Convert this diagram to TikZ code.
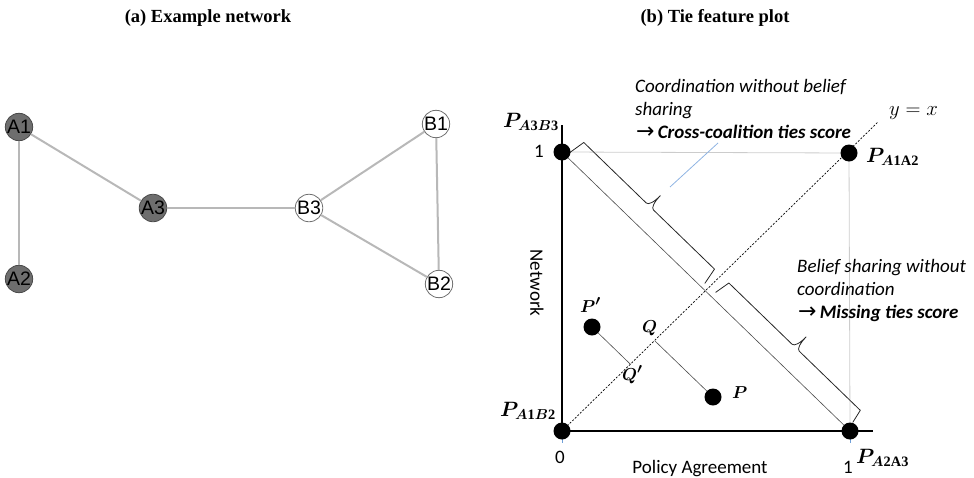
\documentclass[tikz,border=0pt]{standalone}
\usepackage{fontspec}
\usepackage{bm}
\setmainfont{Liberation Serif}
\newfontfamily\arialf{Liberation Sans}
\newfontfamily\calf{Carlito}
\newfontfamily\djvf{DejaVu Sans}
\usetikzlibrary{calc}
\definecolor{nodegray}{HTML}{6E6E6E}
\definecolor{darkrim}{HTML}{4A4A4A}
\definecolor{rimgray}{HTML}{707070}
\definecolor{edgegray}{HTML}{B8B8B8}
\definecolor{gridgray}{HTML}{CCCCCC}
\definecolor{pointerblue}{HTML}{8FB4E3}
\definecolor{tickblue}{HTML}{6F9FD8}
\newcommand{\rarr}{{\djvf\fontsize{22}{22}\selectfont\upshape\mdseries →}}
\begin{document}
\begin{tikzpicture}[x=1pt,y=-1pt,
  netedge/.style={draw=edgegray, line width=2pt},
  anode/.style={circle, draw=darkrim, fill=nodegray, line width=0.8pt, minimum size=25pt, inner sep=0pt, font=\arialf\fontsize{19.5}{19.5}\selectfont},
  bnode/.style={circle, draw=rimgray, fill=white, line width=0.8pt, minimum size=25pt, inner sep=0pt, font=\arialf\fontsize{19.5}{19.5}\selectfont},
  blackdot/.style={circle, fill=black, minimum size=17pt, inner sep=0pt},
  title/.style={font=\bfseries\fontsize{18.5}{18.5}\selectfont, inner sep=0pt},
  plabel/.style={font=\fontsize{20.5}{20.5}\selectfont, anchor=base west, inner sep=0pt},
  ptlabel/.style={font=\fontsize{19}{19}\selectfont, anchor=base west, inner sep=0pt},
  axlabel/.style={font=\calf\fontsize{19}{19}\selectfont, inner sep=0pt},
  anno/.style={font=\calf\itshape\fontsize{19}{19}\selectfont, anchor=base west, inner sep=0pt},
  bracestyle/.style={draw=black!85, line width=0.8pt, line join=round},
  thinline/.style={draw=black!70, line width=0.6pt},
  axis/.style={draw=black, line width=2pt}
]
\useasboundingbox (0,0) rectangle (974,477);

% ---------- titles ----------
\node[title] (ta) at (208,18) {(a) Example network};
\node[title] (tb) at (715,18) {(b) Tie feature plot};

% ---------- panel (a): network ----------
\node[anode] (A1) at (19,127) {A1};
\node[anode] (A2) at (19,279) {A2};
\node[anode] (A3) at (153,208) {A3};
\node[bnode] (B3) at (309,208) {B3};
\node[bnode] (B1) at (436,124) {B1};
\node[bnode] (B2) at (439,284) {B2};
\draw[netedge] (A1) -- (A2);
\draw[netedge] (A1) -- (A3);
\draw[netedge] (A3) -- (B3);
\draw[netedge] (B3) -- (B1);
\draw[netedge] (B3) -- (B2);
\draw[netedge] (B1) -- (B2);

% ---------- panel (b): coordinates ----------
\coordinate (O)  at (562,431);
\coordinate (TL) at (562,152);
\coordinate (TR) at (849,153);
\coordinate (BR) at (850,431);
\coordinate (Pp) at (592,327);
\coordinate (P)  at (713,397);
\coordinate (Q)  at (655,341);
\coordinate (Qp) at (630.7,364.5);
\coordinate (ytop) at (562,125);
\coordinate (xend) at (873,431);
\coordinate (yxend) at (878,122);
\coordinate (ptrA) at (670,187);
\coordinate (ptrB) at (718,143);

% light grid lines
\draw[draw=gridgray, line width=0.8pt] (TL) -- (TR);
\draw[draw=gridgray, line width=0.8pt] (TR) -- (BR);

% y = x dashed line
\draw[draw=black, line width=0.7pt, dash pattern=on 2pt off 1.6pt] (O) -- (yxend);

% anti-diagonal
\draw[thinline] (TL) -- (BR);

% projection lines
\draw[thinline] (Pp) -- (Qp);
\draw[thinline] (P) -- (Q);

% braces along the anti-diagonal
\begin{scope}[shift={(TL)}, rotate=-44.09]
  \draw[bracestyle] (6,-5) -- (9,-22) -- (96,-22)
     .. controls (99,-22) and (101,-28) .. (101,-37)
     .. controls (101,-28) and (103,-22) .. (106,-22)
     -- (191,-22) -- (194,-5);
  \draw[bracestyle] (208,-6) -- (211,-22) -- (299,-22)
     .. controls (302,-22) and (304,-28) .. (304,-37)
     .. controls (304,-28) and (306,-22) .. (309,-22)
     -- (394,-22) -- (397,-8);
\end{scope}

% pointer
\draw[draw=pointerblue, line width=0.8pt] (ptrA) -- (ptrB);

% ticks
\draw[draw=tickblue, line width=0.6pt] (562,433) -- (562,443);
\draw[draw=tickblue, line width=0.6pt] (850,433) -- (850,443);

% axes
\draw[axis] (O) -- (ytop);
\draw[axis] (O) -- (xend);

% dots
\node[blackdot] (dTL) at (TL) {};
\node[blackdot] (dTR) at (TR) {};
\node[blackdot] (dO)  at (O) {};
\node[blackdot] (dBR) at (BR) {};
\node[blackdot] (dPp) at (Pp) {};
\node[blackdot] (dP)  at (P) {};

% point labels
\node[plabel] (lA3B3) at (503,127) {$\bm{P}_{\bm{A}\mathbf{3}\bm{B}\mathbf{3}}$};
\node[plabel] (lA1A2) at (866,162) {$\bm{P}_{\bm{A}\mathbf{1A2}}$};
\node[plabel] (lA1B2) at (500,416) {$\bm{P}_{\bm{A}\mathbf{1}\bm{B}\mathbf{2}}$};
\node[plabel] (lA2A3) at (856,463) {$\bm{P}_{\bm{A}\mathbf{2A3}}$};
\node[ptlabel] (lPp) at (580,312) {$\bm{P'}$};
\node[ptlabel] (lP)  at (732,398) {$\bm{P}$};
\node[ptlabel] (lQ)  at (642,332) {$\bm{Q}$};
\node[ptlabel] (lQp) at (622,380) {$\bm{Q'}$};
\node[ptlabel, font=\fontsize{21}{21}\selectfont] (lyx) at (889,115) {$y=x$};

% axis labels
\node[axlabel, anchor=base] (one y) at (539,157) {1};
\node[axlabel, anchor=base] (zero) at (560,463) {0};
\node[axlabel, anchor=base] (one x) at (848,473) {1};
\node[axlabel, anchor=base] (xlab) at (700,473) {Policy Agreement};
\node[axlabel, rotate=-90] (ylab) at (537,283) {Network};

% annotations
\node[anno] (c1) at (635,92) {Coordination without belief};
\node[anno] (c2) at (635,115) {sharing};
\node[anno] (c3) at (636,138) {\rarr\,\textbf{Cross-coalition ties score}};
\node[anno] (m1) at (797,272) {Belief sharing without};
\node[anno] (m2) at (797,295) {coordination};
\node[anno] (m3) at (798,318) {\rarr\,\textbf{Missing ties score}};
\end{tikzpicture}
\end{document}
